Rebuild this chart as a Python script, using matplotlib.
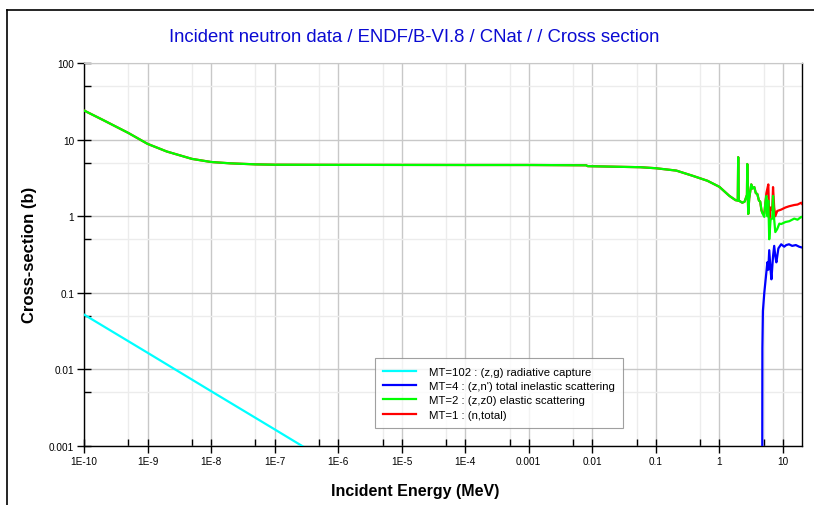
import numpy as np
import matplotlib
matplotlib.use("Agg")
import matplotlib.pyplot as plt
from matplotlib.lines import Line2D
from matplotlib.ticker import LogLocator, FixedLocator, NullFormatter

plt.rcParams['font.family'] = ['Liberation Sans', 'DejaVu Sans']

# MT=102 (z,g) radiative capture
capture_e = [1e-10, 1e-9, 1e-8, 1e-7, 1e-6]
capture_xs = [0.052, 0.0165, 0.0052, 0.00165, 0.00052]

# MT=4 (z,n') total inelastic
inel_e = [4.72, 4.74, 4.76, 4.85, 5.1, 5.4, 5.7, 5.9, 6.1, 6.4, 6.6, 7.0, 7.3, 7.6, 7.9,
          8.5, 9.4, 10.5, 11.3, 12.5, 14.0, 16.0, 18.0, 20.0]
inel_xs = [0.0001, 0.0009, 0.019, 0.058, 0.10, 0.16, 0.25, 0.20, 0.36, 0.20, 0.15, 0.30, 0.41,
           0.30, 0.25, 0.38, 0.43, 0.40, 0.42, 0.43, 0.41, 0.42, 0.40, 0.39]

# MT=2 (z,z0) elastic
elas_e = [1e-10, 2e-10, 5e-10, 1e-9, 2e-9, 5e-9, 1e-8, 2e-8, 5e-8, 1e-7, 1e-6, 1e-5, 1e-4,
          1e-3, 8e-3, 8.5e-3, 0.057, 0.1, 0.21, 0.38, 0.65, 1.0, 1.44, 1.8, 1.95, 1.98,
          2.02, 2.3, 2.5, 2.72, 2.75, 2.8, 2.85, 2.95, 3.18, 3.3, 3.55, 3.75, 3.96, 4.2,
          4.4, 4.6, 4.74, 5.1, 5.3, 5.5, 5.7, 5.9, 6.1, 6.4, 6.8, 7.0, 7.3, 7.6, 8.15,
          8.8, 9.4, 11.0, 12.6, 15.1, 17.0, 19.5, 20.0]
elas_xs = [24.0, 18.0, 12.2, 8.8, 7.0, 5.6, 5.1, 4.9, 4.75, 4.7, 4.68, 4.67, 4.66,
           4.66, 4.62, 4.5, 4.36, 4.23, 3.94, 3.37, 2.9, 2.42, 1.84, 1.62, 1.6, 5.9,
           1.6, 1.5, 1.55, 1.9, 4.8, 2.0, 1.07, 1.7, 2.6, 2.3, 2.4, 2.0, 1.95, 1.6,
           1.55, 1.2, 1.1, 0.98, 1.5, 1.84, 1.0, 1.6, 0.5, 0.9, 0.93, 1.84, 0.9, 0.62, 0.68,
           0.8, 0.79, 0.84, 0.86, 0.93, 0.9, 0.98, 0.97]

# MT=1 (n,total), above the inelastic threshold
total_hi_e = [4.74, 5.1, 5.5, 5.9, 6.1, 6.4, 6.8, 7.0, 7.3, 7.6, 8.15, 9.4, 11.0, 12.6,
              15.1, 17.0, 19.5, 20.0]
total_hi_xs = [1.12, 1.08, 2.0, 2.6, 0.9, 1.3, 1.2, 2.4, 1.3, 1.0, 1.17, 1.22, 1.3, 1.35,
               1.4, 1.42, 1.5, 1.45]

xticks = [1e-10, 1e-9, 1e-8, 1e-7, 1e-6, 1e-5, 1e-4, 1e-3, 1e-2, 1e-1, 1, 10]
xlabels = ['1E-10', '1E-9', '1E-8', '1E-7', '1E-6', '1E-5', '1E-4', '0.001', '0.01', '0.1', '1', '10']
yticks = [0.001, 0.01, 0.1, 1, 10, 100]
ylabels = ['0.001', '0.01', '0.1', '1', '10', '100']

total_e = [e for e in elas_e if e < 4.74] + total_hi_e
total_xs = [s for e, s in zip(elas_e, elas_xs) if e < 4.74] + total_hi_xs

fig = plt.figure(figsize=(8.14, 5.06), dpi=100)
ax = fig.add_axes([84/814, 1-447/506, 718/814, 383/506])

ax.plot(total_e, total_xs, color='#ff0000', lw=1.6, label='MT=1 : (n,total)', zorder=3)
ax.plot(elas_e, elas_xs, color='#00ff00', lw=1.6, label='MT=2 : (z,z0) elastic scattering', zorder=4)
ax.plot(inel_e, inel_xs, color='#0000ff', lw=1.6, label="MT=4 : (z,n') total inelastic scattering", zorder=5)
ax.plot(capture_e, capture_xs, color='#00ffff', lw=1.6, label='MT=102 : (z,g) radiative capture', zorder=6)

ax.set_xscale('log')
ax.set_yscale('log')
ax.set_xlim(1e-10, 20)
ax.set_ylim(0.001, 100)

ax.xaxis.set_major_locator(FixedLocator(xticks))
ax.set_xticklabels(xlabels)
ax.yaxis.set_major_locator(FixedLocator(yticks))
ax.set_yticklabels(ylabels)
ax.xaxis.set_minor_locator(LogLocator(base=10, subs=[5.0], numticks=30))
ax.yaxis.set_minor_locator(LogLocator(base=10, subs=[5.0], numticks=30))
ax.xaxis.set_minor_formatter(NullFormatter())
ax.yaxis.set_minor_formatter(NullFormatter())

ax.tick_params(which='major', direction='inout', length=10, width=1, labelsize=7.2, pad=2)
ax.tick_params(which='minor', direction='in', length=5, width=1)
ax.grid(which='major', color='#c8c8c8', lw=1)
ax.grid(which='minor', color='#ececec', lw=1)
ax.set_axisbelow(True)

ax.spines['top'].set_color('#c8c8c8')
for s in ['left', 'bottom', 'right']:
    ax.spines[s].set_color('black')
    ax.spines[s].set_linewidth(1)

handles, labels = ax.get_legend_handles_labels()
leg = ax.legend(handles[::-1], labels[::-1], loc='lower left', bbox_to_anchor=(0.397, 0.032),
                fontsize=8.2, frameon=True, fancybox=False, edgecolor='#888888',
                handlelength=2.9, borderpad=0.75, labelspacing=0.38, handletextpad=1.1)
leg.get_frame().set_linewidth(0.8)

fig.text(0.509, 1-38/506, 'Incident neutron data / ENDF/B-VI.8 / CNat / / Cross section',
         ha='center', va='center', color='#0a0ad2', fontsize=13.3)
fig.text(415/814, 1-492/506, 'Incident Energy (MeV)', ha='center', va='center',
         fontsize=11.5, fontweight='bold')
fig.text(30/814, 1-255/506, 'Cross-section (b)', ha='center', va='center',
         rotation=90, fontsize=12, fontweight='bold')

# outer frame
fig.add_artist(Line2D([7/814, 1], [1-11/506, 1-11/506], color='black', lw=1.2, transform=fig.transFigure))
fig.add_artist(Line2D([7/814, 7/814], [0, 1-11/506], color='black', lw=1.2, transform=fig.transFigure))

fig.savefig('out.png', dpi=100)
